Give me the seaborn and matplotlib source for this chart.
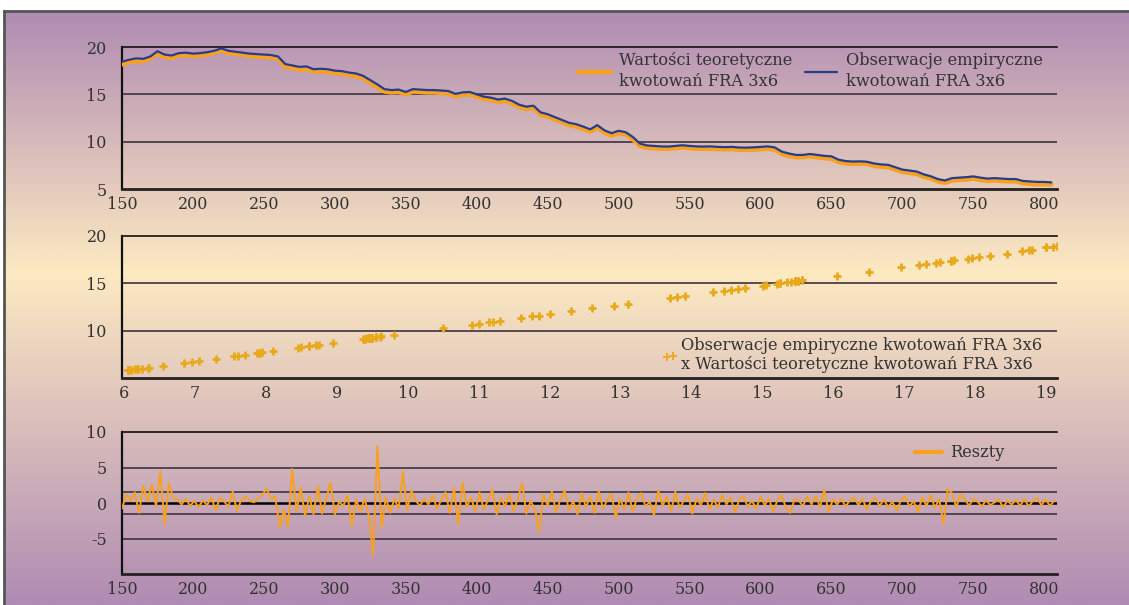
import numpy as np
import pandas as pd
import matplotlib
matplotlib.use("Agg")
import matplotlib.pyplot as plt
import seaborn as sns
from matplotlib.colors import LinearSegmentedColormap

# obserwacje empiryczne FRA 3x6, co 5 obserwacji od 150
emp_x = np.arange(150, 806, 5)
emp_vals = [
    18.45, 18.65, 18.8, 18.75, 19.0, 19.55, 19.2, 19.1, 19.35, 19.4,
    19.3, 19.35, 19.45, 19.6, 19.85, 19.6, 19.5, 19.4, 19.3, 19.25,
    19.2, 19.15, 19.0, 18.2, 18.05, 17.9, 17.95, 17.65, 17.7, 17.65,
    17.5, 17.45, 17.3, 17.2, 16.95, 16.5, 16.05, 15.55, 15.45, 15.5,
    15.25, 15.55, 15.5, 15.45, 15.45, 15.4, 15.35, 15.05, 15.2, 15.25,
    15.0, 14.75, 14.65, 14.45, 14.55, 14.3, 13.9, 13.7, 13.8, 13.1,
    12.9, 12.6, 12.3, 12.0, 11.85, 11.6, 11.3, 11.75, 11.2, 10.9,
    11.15, 11.0, 10.5, 9.8, 9.6, 9.55, 9.5, 9.48, 9.55, 9.62,
    9.55, 9.5, 9.48, 9.5, 9.45, 9.42, 9.45, 9.38, 9.37, 9.4,
    9.45, 9.5, 9.4, 8.95, 8.75, 8.6, 8.6, 8.7, 8.6, 8.5,
    8.45, 8.1, 7.95, 7.9, 7.92, 7.88, 7.7, 7.6, 7.55, 7.3,
    7.05, 6.95, 6.85, 6.55, 6.35, 6.05, 5.9, 6.15, 6.2, 6.25,
    6.33, 6.2, 6.1, 6.15, 6.1, 6.05, 6.05, 5.85, 5.8, 5.75,
    5.75, 5.7,
]
# wartosci teoretyczne
theo_vals = [
    18.15, 18.4, 18.5, 18.5, 18.8, 19.3, 18.95, 18.85, 19.1, 19.15,
    19.05, 19.1, 19.2, 19.4, 19.6, 19.35, 19.25, 19.2, 19.05, 19.0,
    18.95, 18.9, 18.8, 17.9, 17.8, 17.6, 17.7, 17.4, 17.45, 17.35,
    17.25, 17.2, 17.05, 16.9, 16.7, 16.2, 15.75, 15.3, 15.2, 15.25,
    15.0, 15.3, 15.25, 15.2, 15.2, 15.15, 15.1, 14.8, 14.95, 15.0,
    14.75, 14.5, 14.4, 14.2, 14.3, 14.05, 13.65, 13.45, 13.55, 12.85,
    12.65, 12.35, 12.05, 11.75, 11.6, 11.35, 11.05, 11.5, 10.95, 10.65,
    10.9, 10.75, 10.25, 9.55, 9.35, 9.3, 9.25, 9.25, 9.3, 9.4,
    9.3, 9.25, 9.25, 9.25, 9.2, 9.2, 9.2, 9.15, 9.12, 9.15,
    9.2, 9.25, 9.15, 8.7, 8.5, 8.35, 8.38, 8.45, 8.35, 8.25,
    8.2, 7.85, 7.7, 7.65, 7.68, 7.65, 7.45, 7.35, 7.3, 7.05,
    6.8, 6.7, 6.6, 6.3, 6.1, 5.8, 5.65, 5.9, 5.95, 6.0,
    6.1, 5.95, 5.85, 5.9, 5.85, 5.8, 5.82, 5.6, 5.55, 5.5,
    5.52, 5.48,
]

# reszty, co 3 obserwacje od 150
res_x = np.arange(150, 808, 3)
res_vals = [
    -0.8, 1.2, 0.3, 1.5, -1.4, 2.4, 0.2, 2.6, -0.5, 4.5,
    -3.0, 2.8, 0.8, 0.5, -0.2, 0.6, -0.4, 0.3, -0.6, 0.4,
    -0.3, 0.8, -1.0, 0.7, 0.2, -0.5, 1.6, -1.1, 0.4, 0.9,
    0.3, 0.1, 0.6, 1.2, 2.0, 0.6, 0.9, -3.4, -1.0, -3.3,
    4.8, -1.2, 2.2, -1.8, 0.9, -1.6, 2.4, -1.5, 0.7, 2.9,
    -1.6, 0.2, -0.4, 1.1, -3.2, 0.5, -1.2, 0.6, -1.8, -7.4,
    8.0, -3.5, 0.8, -1.4, 0.6, -0.8, 4.4, -1.0, 1.8, 0.3,
    -0.4, 0.6, -0.2, 1.1, -0.8, 0.4, 1.5, -1.4, 2.1, -3.0,
    2.9, -0.6, 0.8, -1.2, 1.5, -0.9, 0.4, 1.9, -1.6, 0.7,
    -0.5, 1.3, -1.1, 0.6, 2.8, -1.5, 0.3, -0.8, -4.0, 1.2,
    -0.4, 1.6, -1.3, 0.5, 1.8, -1.0, 0.3, -1.6, 1.4, -0.6,
    0.9, -1.4, 1.7, -0.8, 0.4, 1.3, -2.1, 0.6, -0.9, 1.5,
    -1.2, 0.7, 1.4, -0.5, 0.2, -1.7, 1.8, -0.4, 0.9, -1.1,
    1.6, -0.7, 0.3, 1.2, -1.5, 0.6, -0.3, 1.4, -0.9, 0.5,
    -0.6, 1.1, -0.2, 0.8, -1.3, 0.4, 1.0, -0.5, 0.3, -0.8,
    0.9, -0.3, 0.6, -1.2, 0.4, 1.1, -0.7, -1.4, 0.5, 0.3,
    -0.4, 0.9, -0.2, 1.0, -0.6, 1.9, -1.3, 0.5, -0.2, 0.6,
    -0.5, 0.4, 0.8, -0.3, 0.6, -0.9, 0.3, 0.7, -0.4, 0.5,
    -0.6, 0.2, -1.1, 0.4, 0.9, -0.5, 0.3, -1.3, 0.8, -0.4,
    1.1, -0.7, 0.6, -3.0, 2.0, 1.4, -0.6, 1.2, 0.5, -0.4,
    0.6, 0.2, -0.5, 0.4, -0.3, 0.1, 0.5, -0.6, 0.3, -0.2,
    0.4, -0.4, 0.6, -0.5, 0.3, 0.7, -0.3, 0.5, -0.4, 0.3,
]
res_band = 1.5

lbl_theo = "Wartości teoretyczne\nkwotowań FRA 3x6"
lbl_emp = "Obserwacje empiryczne\nkwotowań FRA 3x6"
lbl_scatter = "Obserwacje empiryczne kwotowań FRA 3x6\nx Wartości teoretyczne kwotowań FRA 3x6"
lbl_res = "Reszty"

ORANGE = "#f7a11f"
GOLD = "#e9a91c"
BLUE = "#283c8c"
TXT = "#333333"
GRID = "#3c3440"

sns.set_style("white")
plt.rcParams["font.family"] = ["DejaVu Serif"]
plt.rcParams["font.size"] = 11.5
plt.rcParams["axes.unicode_minus"] = False

df_top = pd.DataFrame({"x": emp_x, "emp": emp_vals, "theo": theo_vals})
df_res = pd.DataFrame({"x": res_x, "res": res_vals})

fig = plt.figure(figsize=(11.29, 6.05), dpi=100)
fig.patch.set_facecolor("white")

# gradient background with frame
bg = fig.add_axes([4 / 1129, 0, 1 - 4 / 1129, 1 - 11 / 605], zorder=-10)
cmap = LinearSegmentedColormap.from_list(
    "bg", [(0.0, "#b08bb3"), (0.44, "#fdeac2"), (1.0, "#b08bb3")])
grad = np.linspace(0, 1, 400).reshape(-1, 1)
bg.imshow(grad, aspect="auto", cmap=cmap, extent=[0, 1, 0, 1], origin="upper")
bg.set_xticks([])
bg.set_yticks([])
for side in ["right", "bottom"]:
    bg.spines[side].set_visible(False)
for side in ["left", "top"]:
    bg.spines[side].set_color("#555555")
    bg.spines[side].set_linewidth(2)

L, W, H = 122 / 1129, 935 / 1129, 142 / 605


def style(ax, yticks):
    ax.set_facecolor("none")
    ax.set_yticks(yticks)
    ax.tick_params(axis="both", length=0, colors=TXT, labelsize=11.5)
    ax.tick_params(axis="y", pad=11)
    ax.tick_params(axis="x", pad=5)
    ax.spines["right"].set_visible(False)
    ax.spines["top"].set_visible(True)
    ax.spines["top"].set_color("#111111")
    ax.spines["top"].set_linewidth(1.2)
    ax.spines["left"].set_color("#111111")
    ax.spines["left"].set_linewidth(1.6)
    ax.spines["bottom"].set_color("#222222")
    ax.spines["bottom"].set_linewidth(2)
    ax.set_xlabel("")
    ax.set_ylabel("")


# panel 1: lines
ax1 = fig.add_axes([L, 1 - 189 / 605, W, H])
for v in [10, 15]:
    ax1.axhline(v, color=GRID, lw=1.2, zorder=1)
sns.lineplot(data=df_top, x="x", y="theo", ax=ax1, color=ORANGE, lw=3.2,
             label=lbl_theo, zorder=3)
sns.lineplot(data=df_top, x="x", y="emp", ax=ax1, color=BLUE, lw=1.6,
             label=lbl_emp, zorder=4)
ax1.set_xlim(150, 809)
ax1.set_ylim(5, 20)
ax1.set_xticks(range(150, 801, 50))
style(ax1, [5, 10, 15, 20])
leg = ax1.legend(loc="upper right", ncol=2, frameon=False, fontsize=11.7,
                 bbox_to_anchor=(1.0, 1.07), handlelength=2.0,
                 columnspacing=0.8, handletextpad=0.5, labelspacing=0.2)
for t in leg.get_texts():
    t.set_color(TXT)
    t.set_linespacing(1.35)

# panel 2: scatter
ax2 = fig.add_axes([L, 1 - 378 / 605, W, H])
for v in [10, 15]:
    ax2.axhline(v, color=GRID, lw=1.2, zorder=1)
sns.scatterplot(data=df_top, x="emp", y="theo", ax=ax2, marker="+", s=30,
                color=GOLD, linewidth=2.0, label=lbl_scatter, zorder=3)
ax2.set_xlim(5.97, 19.15)
ax2.set_ylim(5, 20)
ax2.set_xticks(range(6, 20))
style(ax2, [10, 15, 20])
leg2 = ax2.legend(loc="lower right", frameon=False, fontsize=11.7,
                  bbox_to_anchor=(1.0, -0.07), scatterpoints=2,
                  handlelength=1.0, handletextpad=0.2, markerscale=1.0,
                  labelspacing=0.2)
for t in leg2.get_texts():
    t.set_color(TXT)
for h in leg2.legend_handles:
    h.set_color("#f5a623")
    h.set_linewidth(1.4)

# panel 3: residuals
ax3 = fig.add_axes([L, 1 - 574 / 605, W, H])
for v in [5, res_band, -res_band, -5]:
    ax3.axhline(v, color=GRID, lw=1.2, zorder=1)
ax3.axhline(0, color="#000000", lw=1.8, zorder=2)
sns.lineplot(data=df_res, x="x", y="res", ax=ax3, color=ORANGE, lw=1.4,
             label=lbl_res, zorder=3)
ax3.set_xlim(150, 809)
ax3.set_ylim(-10, 10)
ax3.set_xticks(range(150, 801, 50))
style(ax3, [10, 5, 0, -5])
leg3 = ax3.legend(loc="upper right", frameon=False, fontsize=11.7,
                  bbox_to_anchor=(0.96, 1.015), handlelength=1.7,
                  handletextpad=0.5)
for t in leg3.get_texts():
    t.set_color(TXT)
for line in leg3.get_lines():
    line.set_linewidth(3)

fig.savefig("out.png", dpi=100)
